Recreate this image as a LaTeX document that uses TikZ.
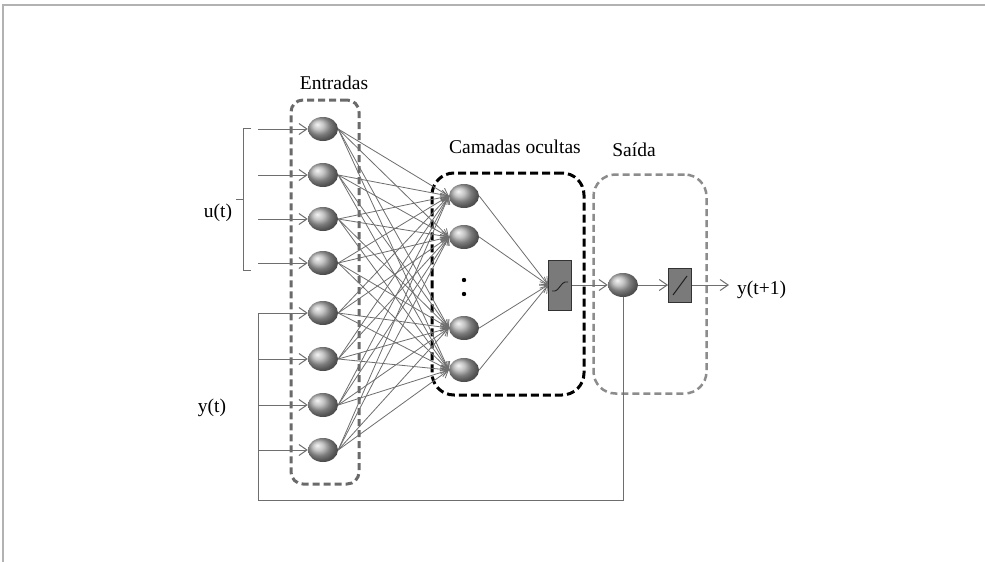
\documentclass[tikz,border=0pt]{standalone}
\usepackage{fontspec}
\setmainfont{Liberation Serif}
\usetikzlibrary{arrows.meta,shapes.geometric}
\definecolor{linegray}{HTML}{6E6E6E}
\definecolor{boxgray}{HTML}{6A6A6A}
\definecolor{outgray}{HTML}{8C8C8C}
\definecolor{actfill}{HTML}{7A7A7A}
\begin{document}
\begin{tikzpicture}[x=1pt,y=-1pt,
  neuron/.style={ellipse, minimum width=30, minimum height=24, inner sep=0pt, shading=ball, ball color=gray!62},
  conn/.style={draw=linegray, line width=0.8, -{Straight Barb[length=7,width=9]}},
  feed/.style={draw=linegray, line width=1},
  inarrow/.style={draw=linegray, line width=1, -{Straight Barb[length=8,width=11]}},
  actbox/.style={rectangle, draw=gray!40!black, fill=actfill, line width=0.8, inner sep=0pt},
  lbl/.style={font=\fontsize{19.5}{22}\selectfont, inner sep=0pt},
  entbox/.style={draw=boxgray, line width=3, dash pattern=on 7 off 4, rounded corners=12, rectangle, inner sep=0pt},
  hidbox/.style={draw=black, line width=3, dash pattern=on 8 off 4, rounded corners=22, rectangle, inner sep=0pt},
  outbox/.style={draw=outgray, line width=2.5, dash pattern=on 7 off 4, rounded corners=22, rectangle, inner sep=0pt}
]
\useasboundingbox (0,0) rectangle (985,562);
\fill[white] (0,0) rectangle (985,562);
% frame
\draw[gray!60, line width=1.5] (3,562) -- (3,5) -- (985,5);

% boxes
\node[entbox, minimum width=68, minimum height=384] (ebox) at (325,292) {};
\node[hidbox, minimum width=152, minimum height=222] (hbox) at (508,284) {};
\node[outbox, minimum width=113, minimum height=219] (obox) at (650,284) {};

% labels
\node[lbl] (tEnt) at (334,83) {Entradas};
\node[lbl] (tCam) at (515,147) {Camadas ocultas};
\node[lbl] (tSai) at (634,150) {Saída};
\node[lbl] (tu) at (218,213) {u(t)};
\node[lbl] (ty) at (212,408) {y(t)};
\node[lbl, anchor=west] (tyo) at (737,290) {y(t+1)};
\coordinate (yend) at (729,285);

% input neurons
\foreach \i/\yy in {1/129,2/175,3/219,4/263,5/313,6/359,7/405,8/450}{
  \node[neuron] (in\i) at (323,\yy) {};
  \coordinate (src\i) at (258,\yy);
}
% hidden neurons
\foreach \j/\yy in {1/196,2/237,3/328,4/370}{
  \node[neuron] (h\j) at (464,\yy) {};
}
\fill[black] (464,280) circle (2.2);
\fill[black] (464,294) circle (2.2);

% activation boxes
\node[actbox, minimum width=23, minimum height=50] (hact) at (560,285) {};
\draw[gray!25!black, line width=0.9] (552,291) -- (555,291) .. controls (558,291) and (562,282) .. (565,282) -- (568,282);
\node[neuron] (oneur) at (623,285) {};
\node[actbox, minimum width=23, minimum height=34] (oact) at (680,285) {};
\draw[gray!25!black, line width=1] (673,295) -- (687,276);

% brace for u(t)
\draw[linegray, line width=1] (251,128) -- (243,128) -- (243,270) -- (251,270);
\draw[linegray, line width=1] (243,199) -- (236,199);

% input arrows
\foreach \i in {1,...,8}{
  \draw[inarrow] (src\i) -- (in\i.west);
}
% feedback
\coordinate (fbc) at (258,500);
\draw[feed] (oneur.south) |- (fbc) -- (src5);

% full connections
\foreach \i in {1,...,8}{
  \foreach \j in {1,...,4}{
    \draw[conn] (in\i.east) -- (h\j.west);
  }
}
\foreach \j in {1,...,4}{
  \draw[conn] (h\j.east) -- (hact.west);
}
\draw[inarrow] (hact.east) -- (oneur.west);
\draw[inarrow] (oneur.east) -- (oact.west);
\draw[inarrow] (oact.east) -- (yend);
\end{tikzpicture}
\end{document}
